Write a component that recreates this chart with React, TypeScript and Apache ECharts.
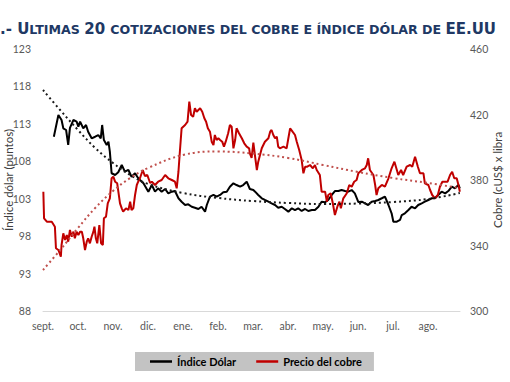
import React, { useEffect, useRef } from "react";
import * as echarts from "echarts";

// x positions are in months since 1 Sept (0 = sept., 11 = ago.)
const monthLabels = ["sept.", "oct.", "nov.", "dic.", "ene.", "feb.", "mar.", "abr.", "may.", "jun.", "jul.", "ago."];
const monthTicks = [0, 1, 2, 3, 4, 5, 6, 7, 8, 9, 10, 11];
const leftTicks = [88, 93, 98, 103, 108, 113, 118, 123];
const rightTicks = [300, 340, 380, 420, 460];

const dollarPoints: [number, number][] = [
  [0.31, 111.28], [0.44, 114.18], [0.53, 113.52], [0.58, 112.41], [0.66, 112.18], [0.72, 110.18],
  [0.77, 112.45], [0.87, 113.52], [0.96, 113.29], [1.01, 112.62], [1.06, 113.29], [1.15, 112.41],
  [1.23, 112.85], [1.29, 111.95], [1.39, 111.07], [1.49, 111.28], [1.58, 111.51], [1.65, 111.07],
  [1.69, 112.85], [1.74, 110.84], [1.82, 110.18], [1.87, 110.62], [1.91, 109.28], [1.96, 106.4],
  [2.06, 106.17], [2.15, 106.53], [2.25, 107.5], [2.34, 106.61], [2.44, 106.84], [2.53, 105.94],
  [2.63, 106.4], [2.72, 105.73], [2.87, 105.06], [3.01, 103.94], [3.11, 104.83], [3.2, 103.94],
  [3.29, 104.39], [3.39, 103.94], [3.49, 104.3], [3.58, 103.72], [3.68, 103.94], [3.77, 104.03],
  [3.87, 103.06], [3.96, 102.6], [4.06, 102.16], [4.15, 102.25], [4.25, 101.93], [4.34, 101.8],
  [4.44, 101.63], [4.53, 101.93], [4.63, 101.27], [4.68, 102.16], [4.77, 103.27], [4.87, 103.5],
  [4.96, 103.27], [5.06, 103.5], [5.15, 103.86], [5.25, 103.94], [5.34, 104.61], [5.44, 105.06],
  [5.53, 104.83], [5.63, 104.61], [5.72, 104.83], [5.82, 105.27], [5.91, 104.3], [6.01, 104.16],
  [6.06, 103.94], [6.15, 103.5], [6.25, 103.06], [6.34, 102.83], [6.44, 102.6], [6.53, 102.39],
  [6.63, 102.16], [6.72, 101.8], [6.82, 101.93], [6.91, 101.63], [7.01, 101.27], [7.11, 101.72],
  [7.2, 101.49], [7.29, 101.72], [7.39, 101.36], [7.49, 101.63], [7.58, 101.36], [7.68, 101.49],
  [7.77, 101.49], [7.87, 101.93], [7.96, 102.6], [8.06, 102.52], [8.15, 102.83], [8.25, 103.5],
  [8.34, 104.03], [8.44, 104.03], [8.53, 104.16], [8.63, 104.03], [8.72, 103.94], [8.82, 104.16],
  [8.91, 103.72], [9.01, 102.56], [9.11, 102.6], [9.2, 102.39], [9.29, 102.16], [9.39, 102.6],
  [9.49, 102.69], [9.58, 102.83], [9.68, 103.06], [9.77, 103.27], [9.87, 102.16], [9.96, 101.05],
  [10.01, 99.93], [10.11, 99.93], [10.2, 100.16], [10.25, 100.82], [10.34, 101.05], [10.44, 101.49],
  [10.53, 101.93], [10.63, 101.72], [10.72, 102.16], [10.82, 102.39], [10.91, 102.6], [11.01, 102.83],
  [11.11, 103.06], [11.2, 103.06], [11.29, 103.5], [11.39, 103.94], [11.49, 103.72], [11.58, 104.03],
  [11.68, 104.61], [11.77, 104.39], [11.87, 104.83], [11.91, 104.39],
];

const copperPoints: [number, number][] = [
  [0.01, 372.86], [0.03, 356.61], [0.11, 354.53], [0.25, 354.53], [0.34, 351.48], [0.37, 338.29],
  [0.44, 337.25], [0.51, 333.16], [0.53, 340.31], [0.58, 347.45], [0.63, 343.36], [0.68, 346.41],
  [0.72, 342.32], [0.77, 349.47], [0.82, 345.37], [0.87, 348.43], [0.91, 344.4], [0.96, 348.43],
  [1.01, 346.41], [1.06, 348.43], [1.11, 348.43], [1.15, 344.4], [1.2, 337.25], [1.25, 342.32],
  [1.29, 344.4], [1.34, 341.34], [1.39, 345.37], [1.44, 348.43], [1.47, 351.48], [1.51, 344.4],
  [1.55, 341.34], [1.61, 352.52], [1.66, 341.34], [1.71, 340.31], [1.74, 356.61], [1.8, 357.59],
  [1.85, 365.77], [1.91, 368.82], [1.96, 381.04], [2.01, 382.02], [2.06, 378.96], [2.12, 377.99],
  [2.2, 365.77], [2.25, 362.72], [2.29, 360.64], [2.37, 362.72], [2.44, 361.68], [2.49, 366.75],
  [2.53, 361.68], [2.58, 362.72], [2.63, 370.84], [2.68, 376.95], [2.72, 378.96], [2.77, 381.04],
  [2.85, 386.11], [2.91, 382.44], [2.98, 383.05], [3.06, 378.17], [3.11, 378.96], [3.2, 376.95],
  [3.29, 378.96], [3.39, 380.0], [3.49, 383.05], [3.58, 381.04], [3.68, 380.0], [3.77, 378.96],
  [3.82, 374.93], [3.87, 385.07], [3.91, 397.28], [3.96, 411.57], [4.06, 413.59], [4.13, 415.6],
  [4.18, 427.82], [4.23, 419.7], [4.29, 418.66], [4.34, 423.79], [4.39, 421.71], [4.44, 422.75],
  [4.49, 423.79], [4.55, 421.71], [4.61, 417.68], [4.66, 415.6], [4.71, 411.57], [4.77, 409.5],
  [4.82, 403.39], [4.87, 401.37], [4.91, 407.48], [4.96, 404.43], [5.01, 405.47], [5.06, 404.43],
  [5.12, 403.39], [5.17, 400.34], [5.22, 403.39], [5.29, 408.52], [5.34, 413.59], [5.39, 412.55],
  [5.44, 399.36], [5.49, 404.43], [5.53, 411.57], [5.6, 408.52], [5.68, 405.47], [5.75, 402.41],
  [5.82, 400.34], [5.89, 399.36], [5.91, 396.31], [5.96, 393.44], [6.01, 402.9], [6.06, 394.23],
  [6.11, 386.11], [6.15, 391.18], [6.25, 399.36], [6.34, 403.39], [6.44, 405.47], [6.49, 409.5],
  [6.53, 410.53], [6.58, 407.48], [6.63, 405.47], [6.68, 406.44], [6.72, 400.34], [6.77, 399.36],
  [6.87, 400.34], [6.96, 399.36], [7.01, 405.47], [7.06, 411.57], [7.13, 409.5], [7.2, 407.48],
  [7.25, 403.39], [7.32, 398.32], [7.39, 392.21], [7.44, 384.09], [7.49, 388.12], [7.55, 388.12],
  [7.63, 389.16], [7.71, 387.15], [7.77, 389.16], [7.82, 386.11], [7.91, 383.05], [7.96, 372.86],
  [8.06, 372.86], [8.11, 366.75], [8.15, 370.84], [8.22, 371.88], [8.28, 365.77], [8.34, 358.63],
  [8.41, 363.69], [8.47, 366.75], [8.51, 362.72], [8.58, 368.82], [8.68, 371.88], [8.75, 376.95],
  [8.82, 375.91], [8.89, 378.96], [8.96, 380.0], [9.01, 384.09], [9.11, 386.11], [9.2, 387.15],
  [9.25, 389.16], [9.29, 393.25], [9.34, 386.11], [9.44, 383.05], [9.49, 376.95], [9.53, 370.84],
  [9.58, 374.93], [9.68, 376.95], [9.77, 375.91], [9.87, 381.04], [9.96, 387.15], [10.04, 391.18],
  [10.11, 386.11], [10.15, 383.05], [10.23, 386.11], [10.29, 383.05], [10.39, 388.12], [10.49, 389.16],
  [10.55, 388.12], [10.63, 394.23], [10.71, 388.12], [10.77, 384.09], [10.87, 384.09], [10.91, 377.99],
  [11.01, 376.95], [11.06, 373.89], [11.12, 370.84], [11.2, 368.82], [11.28, 370.84], [11.34, 375.91],
  [11.41, 378.96], [11.49, 378.96], [11.56, 378.96], [11.63, 383.05], [11.69, 385.07], [11.75, 381.04],
  [11.82, 381.04], [11.87, 376.95], [11.91, 372.86],
];

// trend lines (dotted)
const dollarTrend: [number, number][] = [
  [0, 117.52], [0.49, 114.85], [1, 112.18], [1.49, 109.78], [2, 107.77], [2.49, 106.17], [3, 104.97],
  [4, 103.76], [5, 103.1], [6, 102.69], [7, 102.43], [8, 102.29], [9, 102.36], [10, 102.56],
  [11, 102.96], [11.91, 103.76],
];
const copperTrend: [number, number][] = [
  [0, 325.04], [0.49, 337.25], [1, 350.69], [1.49, 362.9], [2, 373.28], [2.49, 381.22], [3, 387.33],
  [4, 395.27], [5, 397.41], [6, 396.18], [7, 393.44], [8, 389.16], [9, 384.89], [10, 381.22],
  [11, 378.17], [11.91, 375.11],
];

const X_MAX = 11.914;
const LABEL_COLOR = "#595959";
const FONT = "Lato, 'Open Sans', sans-serif";
const TITLE_COLOR = "#203864";

export default function App() {
  const ref = useRef<HTMLDivElement>(null);
  useEffect(() => {
    if (!ref.current) return;
    const chart = echarts.init(ref.current, null, { renderer: "svg" });
    const option: any = {
      animation: false,
      backgroundColor: "#ffffff",
      textStyle: { fontFamily: FONT },
      graphic: [
        {
          type: "text",
          x: 0,
          y: 18,
          style: {
            text:
              "{b|.- U}{s|LTIMAS }{b|20 }{s|COTIZACIONES DEL COBRE E ÍNDICE DÓLAR DE }{b|EE.UU}",
            rich: {
              b: { fontSize: 15, fontWeight: "bold", fill: TITLE_COLOR, fontFamily: "DejaVu Sans", verticalAlign: "bottom", lineHeight: 18 },
              s: { fontSize: 12.6, fontWeight: "bold", fill: TITLE_COLOR, fontFamily: "DejaVu Sans", verticalAlign: "bottom", lineHeight: 18 },
            },
          },
        },
      ],
      grid: { left: 43, right: 50, top: 49, bottom: 71, containLabel: false, outerBoundsMode: "none" },
      legend: {
        data: ["Índice Dólar", "Precio del cobre"],
        left: 135,
        top: 352,
        backgroundColor: "#c3c3c3",
        padding: [4, 12, 4, 15],
        itemGap: 20,
        itemWidth: 22,
        itemHeight: 2.5,
        icon: "rect",
        textStyle: { fontFamily: FONT, fontSize: 11, fontWeight: "bold", color: "#000" },
      },
      xAxis: {
        type: "value",
        min: 0,
        max: X_MAX,
        splitLine: { show: false },
        axisTick: { show: false },
        axisLine: { show: true, lineStyle: { color: "#d9d9d9", width: 1 } },
        axisLabel: {
          customValues: monthTicks,
          formatter: (v: number) => monthLabels[Math.round(v)] ?? "",
          color: LABEL_COLOR,
          fontSize: 10.5,
          margin: 9,
          fontFamily: FONT,
        },
      },
      yAxis: [
        {
          type: "value",
          min: 88,
          max: 123,
          name: "Índice dólar (puntos)",
          nameLocation: "middle",
          nameRotate: 90,
          nameGap: 29,
          nameMoveOverlap: false,
          nameTextStyle: { color: "#404040", fontSize: 11.5, fontFamily: FONT },
          splitLine: { show: false },
          axisLine: { show: false },
          axisTick: { show: false },
          axisLabel: { customValues: leftTicks, color: LABEL_COLOR, fontSize: 10.5, margin: 12, fontFamily: FONT },
        },
        {
          type: "value",
          min: 300,
          max: 460,
          position: "right",
          name: "Cobre (cUS$ x libra",
          nameLocation: "middle",
          nameRotate: 90,
          nameGap: 31,
          nameMoveOverlap: false,
          nameTextStyle: { color: "#404040", fontSize: 11.5, fontFamily: FONT },
          splitLine: { show: false },
          axisLine: { show: false },
          axisTick: { show: false },
          axisLabel: { customValues: rightTicks, color: LABEL_COLOR, fontSize: 10.5, margin: 10, fontFamily: FONT },
        },
      ],
      series: [
        {
          name: "Índice Dólar",
          type: "line",
          yAxisIndex: 0,
          data: dollarPoints,
          showSymbol: false,
          symbol: "none",
          itemStyle: { color: "#000000" },
          lineStyle: { color: "#000000", width: 2 },
          z: 3,
        },
        {
          name: "Precio del cobre",
          type: "line",
          yAxisIndex: 1,
          data: copperPoints,
          showSymbol: false,
          symbol: "none",
          itemStyle: { color: "#c00000" },
          lineStyle: { color: "#c00000", width: 2 },
          z: 4,
        },
        {
          name: "trend-dolar",
          type: "line",
          yAxisIndex: 0,
          data: dollarTrend,
          smooth: 0.4,
          showSymbol: false,
          symbol: "none",
          lineStyle: { color: "#1a1a1a", width: 2, type: [2, 3] },
          z: 5,
        },
        {
          name: "trend-cobre",
          type: "line",
          yAxisIndex: 1,
          data: copperTrend,
          smooth: 0.4,
          showSymbol: false,
          symbol: "none",
          lineStyle: { color: "#c0504d", width: 2, type: [2, 3] },
          z: 5,
        },
      ],
    };
    chart.setOption(option);
    return () => chart.dispose();
  }, []);
  return (
    <div
      ref={ref}
      style={{ position: "fixed", left: 0, top: 0, width: 510, height: 382, background: "#fff" }}
    />
  );
}
